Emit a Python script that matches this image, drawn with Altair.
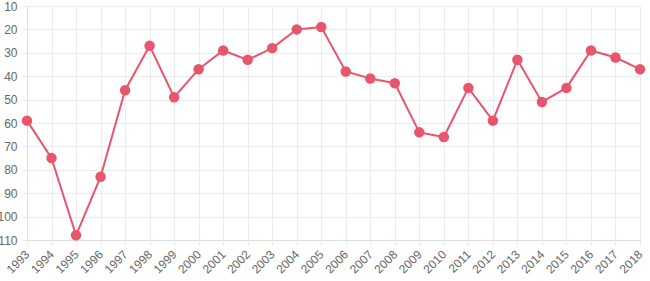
import altair as alt
import pandas as pd

years = [str(y) for y in range(1993, 2019)]
ranks = [59, 75, 108, 83, 46, 27, 49, 37, 29, 33, 28, 20, 19,
         38, 41, 43, 64, 66, 45, 59, 33, 51, 45, 29, 32, 37]
y_ticks = [10, 20, 30, 40, 50, 60, 70, 80, 90, 100, 110]

df = pd.DataFrame({"year": years, "rank": ranks})

color = "#e8566d"
grid = "#ebebeb"

x = alt.X("year:O", title=None,
          scale=alt.Scale(type="point", padding=0),
          axis=alt.Axis(labelAngle=-45, labelAlign="right", labelBaseline="middle",
                        labelPadding=7, tickSize=5, tickColor=grid,
                        grid=True, gridColor=grid, domainColor="#e0e0e0",
                        labelFont="Liberation Sans", labelFontSize=12, labelColor="#666666"))
y = alt.Y("rank:Q", title=None,
          scale=alt.Scale(domain=[10, 110], reverse=True, nice=False, zero=False),
          axis=alt.Axis(values=y_ticks, tickSize=5, tickColor=grid, labelPadding=5,
                        grid=True, gridColor=grid, domainColor="#e0e0e0",
                        labelFont="Liberation Sans", labelFontSize=12, labelColor="#666666"))

base = alt.Chart(df)
line = base.mark_line(color=color, strokeWidth=2).encode(x=x, y=y)
pts = base.mark_point(filled=True, color=color, opacity=1, size=110).encode(x=x, y=y)

chart = (line + pts).properties(
    width=613, height=234,
    autosize=alt.AutoSizeParams(type="none"),
    padding={"left": 27, "top": 6, "right": 10, "bottom": 41},
).configure_view(stroke=None)

chart.save("out.html", embed_options={"renderer": "svg", "actions": False})
